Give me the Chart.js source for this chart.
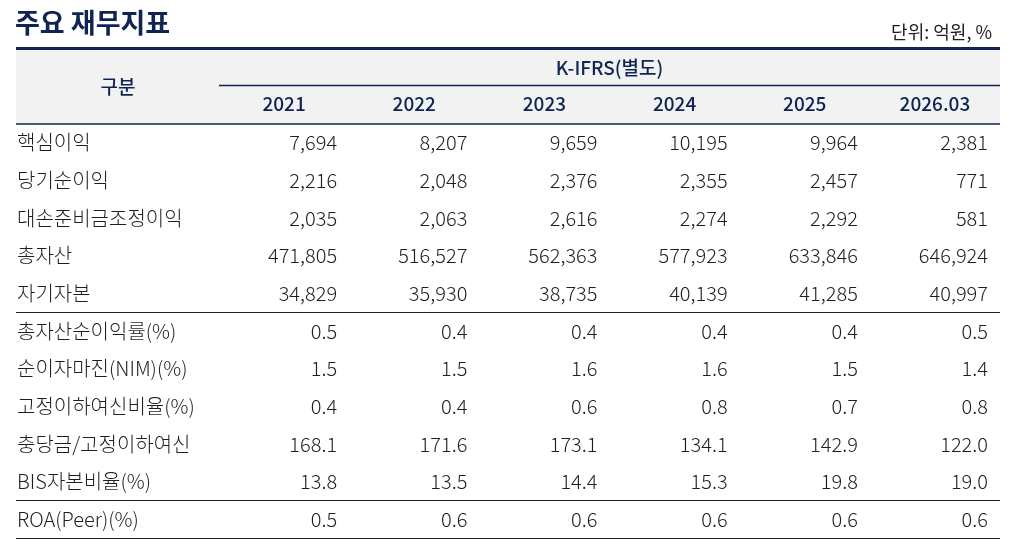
<!DOCTYPE html>
<html>
<head>
<meta charset="utf-8">
<script src="https://cdn.jsdelivr.net/npm/chart.js@4"></script>
<style>
  html, body { margin: 0; padding: 0; background: #fff; }
  #wrap { width: 1020px; height: 548px; position: relative; }
</style>
</head>
<body>
<div id="wrap"><canvas id="chartCanvas"></canvas></div>
<script>
const title = '주요 재무지표'
const unitLabel = '단위: 억원, %'
const headerLeft = '구분'
const headerGroup = 'K-IFRS(별도)'
const years = ['2021', '2022', '2023', '2024', '2025', '2026.03']

const rowLabels = ['핵심이익', '당기순이익', '대손준비금조정이익', '총자산', '자기자본',
    '총자산순이익률(%)', '순이자마진(NIM)(%)', '고정이하여신비율(%)', '충당금/고정이하여신', 'BIS자본비율(%)',
    'ROA(Peer)(%)']

const coreProfit = [7694, 8207, 9659, 10195, 9964, 2381]
const netIncome = [2216, 2048, 2376, 2355, 2457, 771]
const adjIncome = [2035, 2063, 2616, 2274, 2292, 581]
const totalAssets = [471805, 516527, 562363, 577923, 633846, 646924]
const equity = [34829, 35930, 38735, 40139, 41285, 40997]
const roa = [0.5, 0.4, 0.4, 0.4, 0.4, 0.5]
const nim = [1.5, 1.5, 1.6, 1.6, 1.5, 1.4]
const nplRatio = [0.4, 0.4, 0.6, 0.8, 0.7, 0.8]
const coverage = [168.1, 171.6, 173.1, 134.1, 142.9, 122.0]
const bisRatio = [13.8, 13.5, 14.4, 15.3, 19.8, 19.0]
const roaPeer = [0.5, 0.6, 0.6, 0.6, 0.6, 0.6]

const rows = [coreProfit, netIncome, adjIncome, totalAssets, equity, roa, nim, nplRatio, coverage, bisRatio, roaPeer]
const decimals = [0, 0, 0, 0, 0, 1, 1, 1, 1, 1, 1]
const sectionBreaks = [5, 10]

const FONT = '"Noto Sans CJK KR", "Noto Sans", sans-serif'
const NAVY = '#0f2452'
const TEXT = '#1e1e1e'

function fmt(v, d) {
    return d === 0 ? v.toLocaleString('en-US') : v.toFixed(d)
}

let points = []
rows.forEach((vals, r) => {
    vals.forEach((v, c) => {
        points.push({ x: c + 0.5, y: r + 0.5, v: v, d: decimals[r] })
    })
})

const tablePlugin = {
    id: 'tablePlugin',
    beforeDraw(chart) {
        const ctx = chart.ctx
        const xs = chart.scales.x, ys = chart.scales.y
        const left = 16, right = xs.getPixelForValue(6)
        const top = ys.getPixelForValue(0)
        ctx.save()
        // header background
        ctx.fillStyle = '#f2f2f2'
        ctx.fillRect(left, 50, right - left, top - 50)
        // thick navy line
        ctx.fillStyle = NAVY
        ctx.fillRect(left, 47, right - left, 3)
        ctx.restore()
    },
    afterDraw(chart) {
        const ctx = chart.ctx
        const xs = chart.scales.x, ys = chart.scales.y
        const left = 16, right = xs.getPixelForValue(6)
        const top = ys.getPixelForValue(0)
        const colW = xs.getPixelForValue(1) - xs.getPixelForValue(0)
        ctx.save()
        // title
        ctx.fillStyle = NAVY
        ctx.font = 'bold 27px ' + FONT
        ctx.textBaseline = 'middle'
        ctx.textAlign = 'left'
        ctx.fillText(title, 15, 23)
        ctx.fillStyle = TEXT
        ctx.font = '18px ' + FONT
        ctx.textAlign = 'right'
        ctx.fillText(unitLabel, 992, 32)

        // header
        ctx.fillStyle = NAVY
        ctx.font = '500 19px ' + FONT
        ctx.textAlign = 'center'
        ctx.fillText(headerLeft, 118, 87)
        ctx.fillText(headerGroup, (xs.getPixelForValue(0) + right) / 2, 68)
        years.forEach((y, i) => ctx.fillText(y, xs.getPixelForValue(i + 0.5), 104))
        ctx.strokeStyle = NAVY
        ctx.lineWidth = 1.3
        ctx.beginPath()
        ctx.moveTo(xs.getPixelForValue(0), 85.5)
        ctx.lineTo(right, 85.5)
        ctx.moveTo(left, top)
        ctx.lineTo(right, top)
        ctx.stroke()

        // body lines
        ctx.strokeStyle = '#222'
        ctx.lineWidth = 1.2
        ctx.beginPath()
        sectionBreaks.concat([rows.length]).forEach(b => {
            const y = Math.round(ys.getPixelForValue(b)) + 0.5
            ctx.moveTo(left, y)
            ctx.lineTo(right, y)
        })
        ctx.stroke()

        // row labels
        ctx.fillStyle = TEXT
        ctx.font = '300 20px ' + FONT
        ctx.textAlign = 'left'
        rowLabels.forEach((l, r) => ctx.fillText(l, 17, ys.getPixelForValue(r + 0.5)))

        // values at point positions
        ctx.textAlign = 'right'
        const meta = chart.getDatasetMeta(0)
        meta.data.forEach((el, i) => {
            const p = points[i]
            ctx.fillText(fmt(p.v, p.d), el.x + colW / 2 - 12, el.y)
        })
        ctx.restore()
    }
}

chart = new Chart(document.getElementById('chartCanvas'), {
    type: 'scatter',
    data: {
        datasets: [{ data: points, pointRadius: 0, pointHoverRadius: 0 }]
    },
    options: {
        responsive: true,
        maintainAspectRatio: false,
        animation: false,
        events: [],
        layout: { padding: { left: 219, right: 20, top: 124, bottom: 10 } },
        plugins: { legend: { display: false }, tooltip: { enabled: false } },
        scales: {
            x: { type: 'linear', min: 0, max: 6, display: false },
            y: { type: 'linear', min: 0, max: 11, reverse: true, display: false }
        }
    },
    plugins: [tablePlugin]
})
</script>
</body>
</html>
